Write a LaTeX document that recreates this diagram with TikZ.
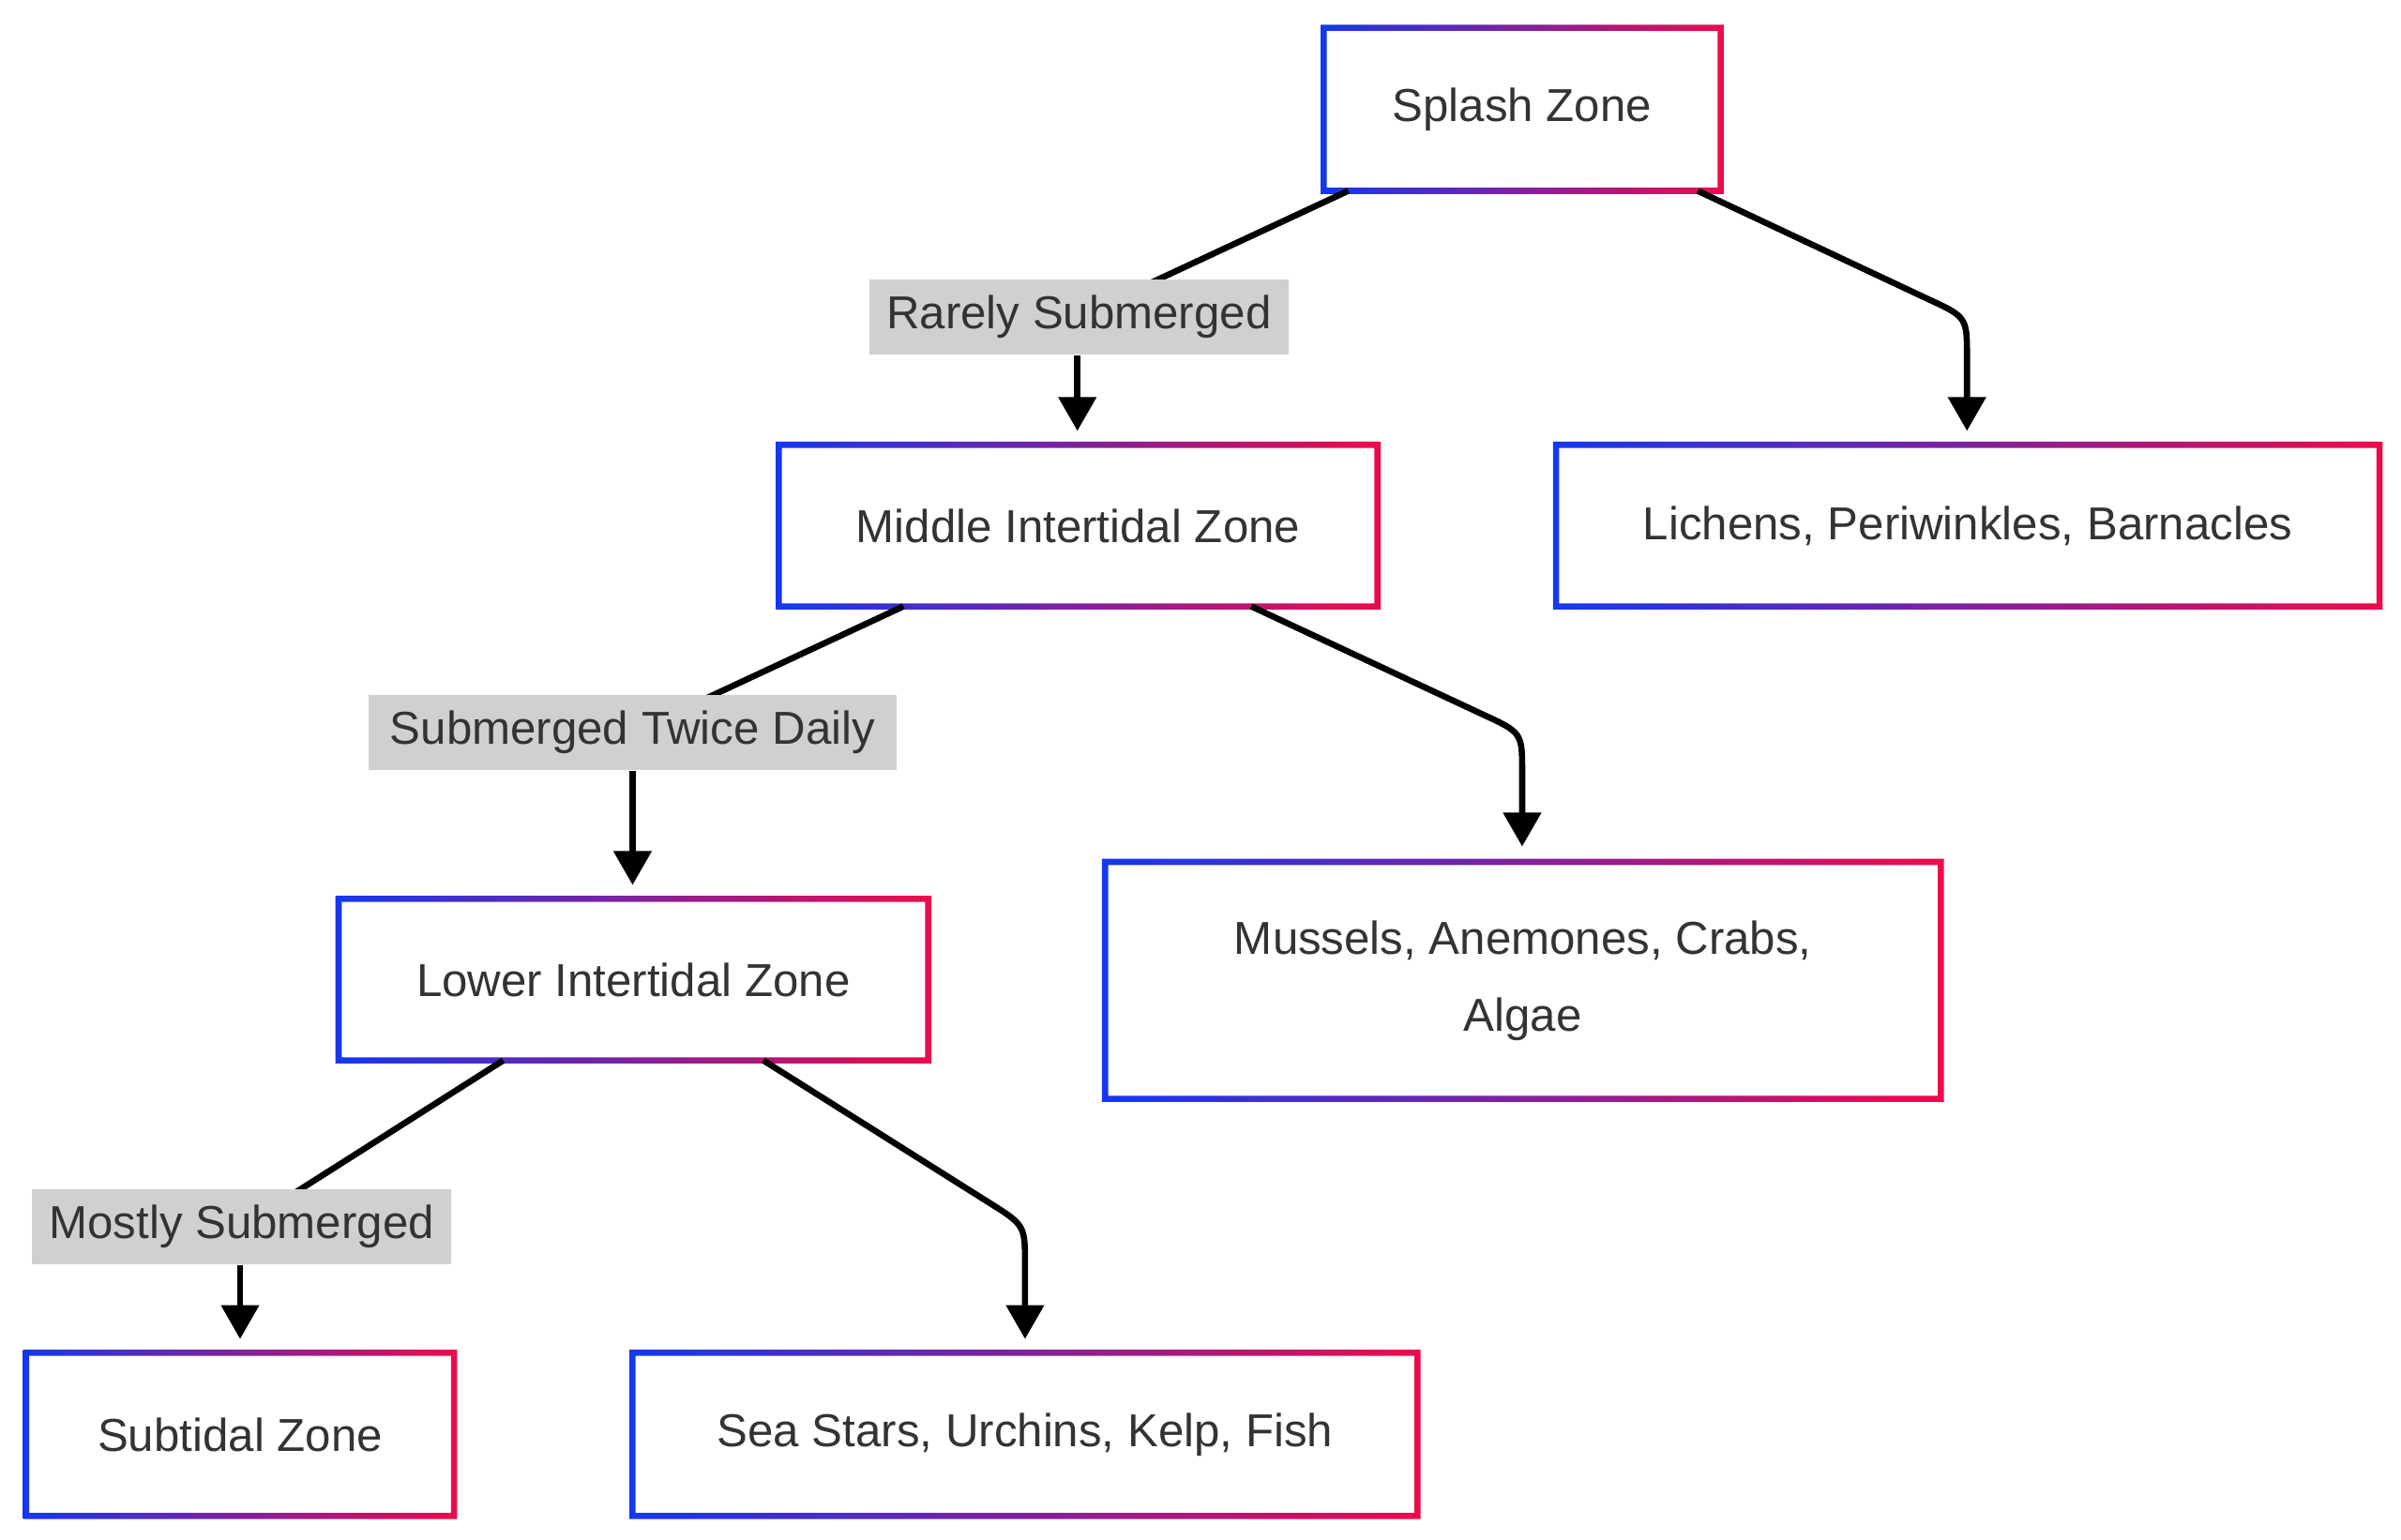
\documentclass[tikz,border=0pt]{standalone}
\usepackage{fontspec}
\setmainfont{Liberation Sans}
\usetikzlibrary{arrows.meta}
\definecolor{tx}{HTML}{333333}
\definecolor{bl}{HTML}{1438F0}
\definecolor{rd}{HTML}{EE0A4A}
\definecolor{lg}{HTML}{D0D0D0}
\tikzset{
  txt/.style={text=tx,font=\fontsize{15}{25}\selectfont,align=center},
  lbl/.style={txt,fill=lg,inner sep=0pt,minimum height=24.5pt},
  edge/.style={line width=2pt,-{Triangle[length=11pt,width=12pt]}},
}
\newcommand{\zbox}[6]{%
  \shade[left color=bl,right color=rd,even odd rule]
    (#2-2,#3-2) rectangle (#4+2,#5+2) (#2+2,#3+2) rectangle (#4-2,#5-2);
  \node[txt] (#1) at ({(#2+#4)/2},{(#3+#5)/2}) {#6};}
\begin{document}
\begin{tikzpicture}[x=0.5pt,y=-0.5pt]
\useasboundingbox (0,0) rectangle (1560,1000);
\zbox{splash}{860}{18}{1118}{124}{Splash Zone}
\zbox{middle}{506}{289}{895}{394}{Middle Intertidal Zone}
\zbox{lichens}{1011}{289}{1546}{394}{Lichens, Periwinkles, Barnacles}
\zbox{lower}{220}{584}{603}{689}{Lower Intertidal Zone}
\zbox{mussels}{718}{560}{1261}{714}{Mussels, Anemones, Crabs,\\Algae}
\zbox{subtidal}{17}{879}{295}{985}{Subtidal Zone}
\zbox{stars}{411}{879}{921}{985}{Sea Stars, Urchins, Kelp, Fish}
% coordinates
\coordinate (a1) at (876,124); \coordinate (a2) at (700,280);
\coordinate (b1) at (1103,124); \coordinate (b2) at (1278,280);
\coordinate (c1) at (587,394); \coordinate (c2) at (411,575);
\coordinate (d1) at (813,394); \coordinate (d2) at (989,550);
\coordinate (e1) at (327,689); \coordinate (e2) at (156,870);
\coordinate (f1) at (496,689); \coordinate (f2) at (666,870);
% label edges
\draw[line width=2pt] (a1) -- (700,206);
\node[lbl,minimum width=136pt] (l1) at (701,206) {Rarely Submerged};
\draw[edge] (l1.south -| a2) -- (a2);
\draw[line width=2pt] (c1) -- (411,476);
\node[lbl,minimum width=171.5pt] (l2) at (411,476) {Submerged Twice Daily};
\draw[edge] (l2.south -| c2) -- (c2);
\draw[line width=2pt] (e1) -- (157,797);
\node[lbl,minimum width=136pt] (l3) at (157,797) {Mostly Submerged};
\draw[edge] (l3.south -| e2) -- (e2);
% curved edges
\draw[edge] (b1) -- (1252,194) .. controls (1278,206) .. (1278,232) -- (b2);
\draw[edge] (d1) -- (963,464) .. controls (989,476) .. (989,502) -- (d2);
\draw[edge] (f1) -- (642,781) .. controls (666,796) .. (666,822) -- (f2);
\end{tikzpicture}
\end{document}
